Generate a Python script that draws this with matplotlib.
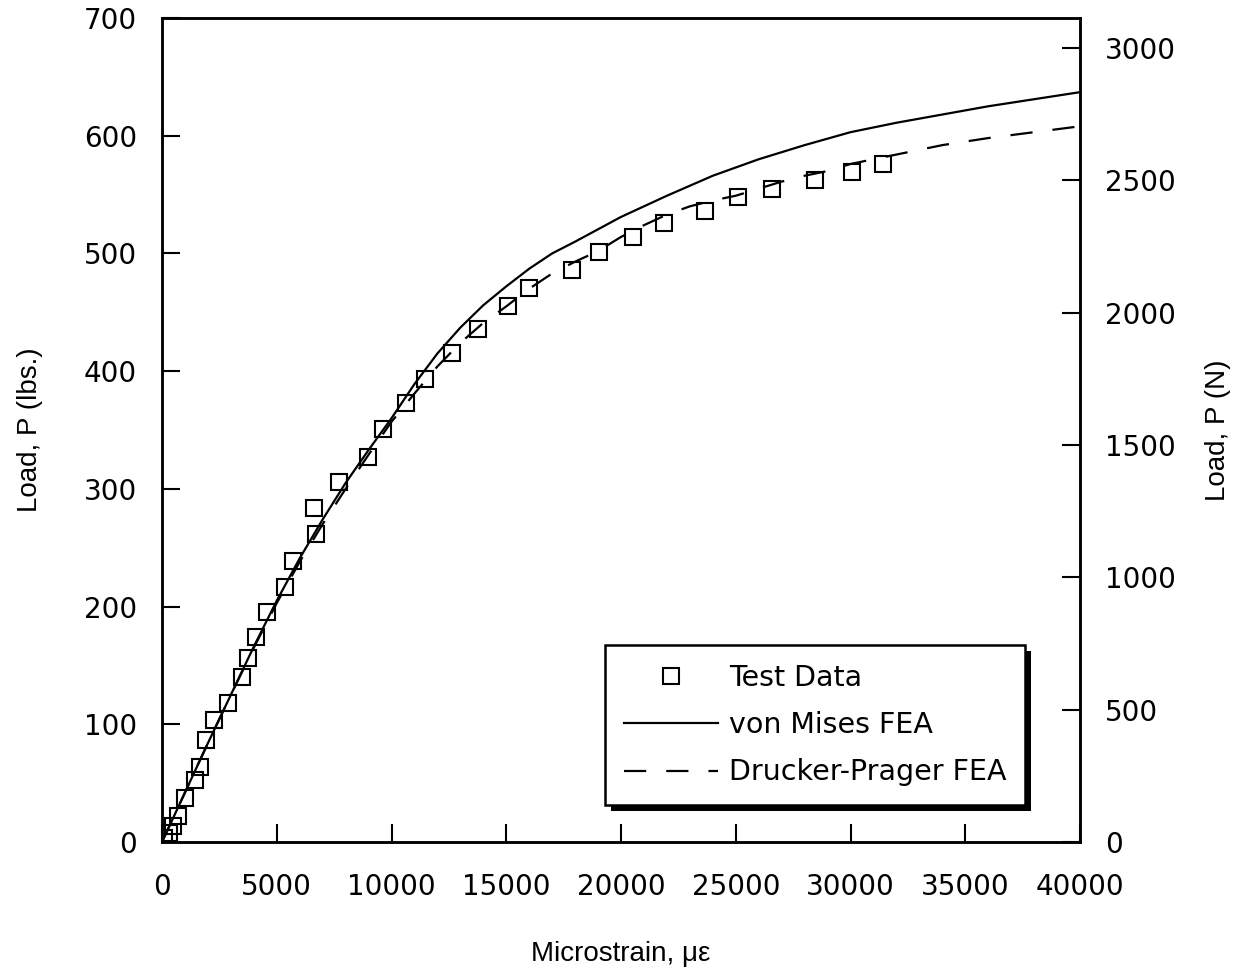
import matplotlib
matplotlib.use("Agg")
import matplotlib.pyplot as plt
from matplotlib.patches import Rectangle
import numpy as np

plt.rcParams['font.family'] = ['Liberation Sans', 'DejaVu Sans']

# Test data (microstrain, load lbs)
test_strain = [100, 300, 500, 700, 1000, 1450, 1650, 1900, 2250, 2880, 3480, 3750, 4100,
               4580, 5360, 5700, 6700, 6620, 7700, 8970, 9630, 10630, 11460, 12630,
               13770, 15070, 15990, 17860, 19040, 20520, 21870, 23660, 25100, 26580,
               28450, 30060, 31410]
test_load = [3, 8, 14, 22, 37, 53, 64, 87, 104, 118, 140, 156, 174,
             195, 217, 239, 262, 284, 306, 327, 351, 373, 393, 415,
             436, 455, 471, 486, 501, 514, 526, 536, 548, 555,
             562, 569, 576]

# von Mises FEA
vm_strain = [0, 1000, 2000, 3000, 4000, 5000, 6000, 7000, 8000, 9000, 10000, 11000,
             12000, 13000, 14000, 15000, 16000, 17000, 18000, 20000, 22000, 24000,
             26000, 28000, 30000, 32000, 34000, 36000, 38000, 40000]
vm_load = [0, 42, 84, 125, 166, 205, 241, 274, 305, 333, 360, 389,
           415, 437, 456, 472, 487, 500, 510, 531, 549, 566,
           580, 592, 603, 611, 618, 625, 631, 637]

# Drucker-Prager FEA
dp_strain = [0, 1000, 2000, 3000, 4000, 5000, 6000, 7000, 8000, 9000, 10000, 11000,
             12000, 13000, 14000, 15000, 16000, 17000, 18000, 19000, 20000, 21000,
             22000, 23000, 24000, 25000, 26000, 27000, 28000, 29000, 30000, 31000,
             32000, 34000, 36000, 38000, 40000]
dp_load = [0, 42, 84, 125, 165, 203, 238, 270, 300, 329, 357, 381,
           404, 424, 441, 455, 470, 483, 493, 502, 514, 524,
           533, 540, 545, 549, 555, 561, 566, 570, 576, 580,
           584, 592, 598, 603, 608]

x_ticks = [0, 5000, 10000, 15000, 20000, 25000, 30000, 35000, 40000]
y_ticks = [0, 100, 200, 300, 400, 500, 600, 700]
yn_ticks = [0, 500, 1000, 1500, 2000, 2500, 3000]
LBS_TO_N = 4.448222

TICK_FONT = dict(family=['DejaVu Sans'], size=20)
LABEL_FONT = dict(family=['Liberation Sans', 'DejaVu Sans'], size=20)

fig = plt.figure(figsize=(12.42, 9.77), dpi=100)
ax = fig.add_axes([162/1242, 1 - 842/977, (1080-162)/1242, (842-18)/977])

l_vm, = ax.plot(vm_strain, vm_load, color='black', lw=1.6, zorder=3)
l_dp, = ax.plot(dp_strain, dp_load, color='black', lw=1.6, linestyle=(0, (10, 9)), zorder=3)
l_td, = ax.plot(test_strain, test_load, linestyle='none', marker='s', markersize=12,
                markerfacecolor='none', markeredgecolor='black', markeredgewidth=1.5,
                zorder=4)

ax.set_xlim(0, 40000)
ax.set_ylim(0, 700)
ax.set_xticks(x_ticks)
ax.set_yticks(y_ticks)
ax.tick_params(axis='both', direction='in', length=13, width=1.5)
ax.tick_params(axis='y', pad=18)
ax.tick_params(axis='x', pad=22)
for lab in ax.get_xticklabels() + ax.get_yticklabels():
    lab.set_fontfamily(TICK_FONT['family'])
    lab.set_fontsize(TICK_FONT['size'])
for s in ax.spines.values():
    s.set_linewidth(1.8)

ax.set_xlabel('Microstrain, \u03bc\u03b5', **LABEL_FONT)
ax.set_ylabel('Load, P (lbs.)', **LABEL_FONT)
ax.xaxis.set_label_coords(0.5, (842 - 941) / 824)
ax.yaxis.set_label_coords((43 - 162) / 918, 0.5)

ax2 = ax.twinx()
ax2.set_ylim(0, 700 * LBS_TO_N)
ax2.set_yticks(yn_ticks)
ax2.tick_params(axis='y', direction='in', length=13, width=1.5, pad=18)
for lab in ax2.get_yticklabels():
    lab.set_fontfamily(TICK_FONT['family'])
    lab.set_fontsize(TICK_FONT['size'])
for s in ax2.spines.values():
    s.set_linewidth(1.8)
ax2.set_ylabel('Load, P (N)', **LABEL_FONT)
ax2.yaxis.set_label_coords((1205 - 162) / 918, 0.5)

leg = ax2.legend([l_td, l_vm, l_dp], ['Test Data', 'von Mises FEA', 'Drucker-Prager FEA'],
                 loc='lower right', bbox_to_anchor=((1025-162)/918, (842-805)/824),
                 prop=dict(family=['DejaVu Sans'], size=20.5),
                 frameon=True, fancybox=False, edgecolor='black',
                 framealpha=1, handlelength=3.3, handletextpad=0.39, labelspacing=0.68,
                 borderpad=0.65, borderaxespad=0)
leg.get_frame().set_linewidth(1.8)
leg.set_zorder(10)

fig.canvas.draw()
bb = leg.get_window_extent()
shadow = Rectangle((bb.x0 + 6, bb.y0 - 6), bb.width, bb.height, transform=None,
                   facecolor='black', edgecolor='none', zorder=9)
ax2.add_artist(shadow)

fig.savefig('out.png', dpi=100)
